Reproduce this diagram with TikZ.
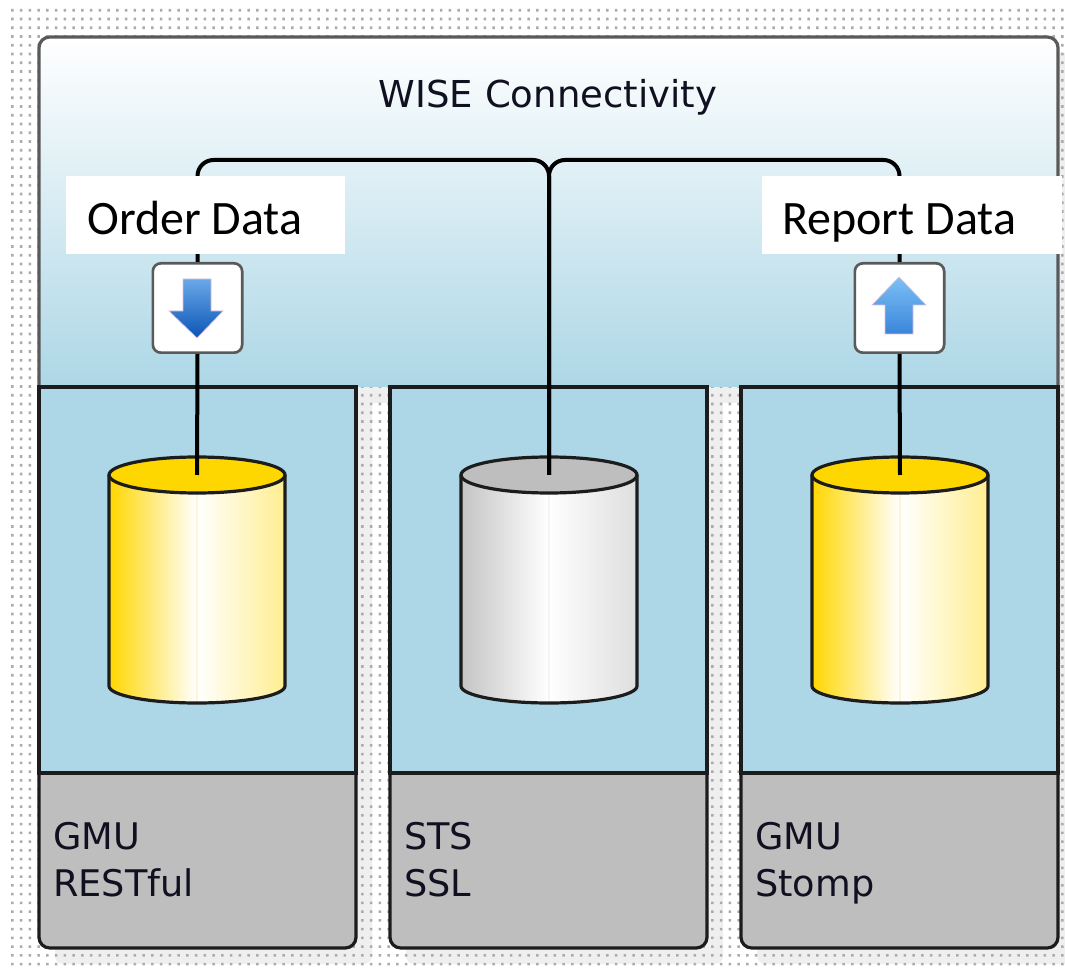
\documentclass[tikz,border=0pt]{standalone}
\usepackage{fontspec}
\setmainfont{DejaVu Sans}
\newfontfamily\calibri{Carlito}
\definecolor{panelblue}{HTML}{ADD7E6}
\definecolor{footgray}{HTML}{BEBEBE}
\definecolor{shadowgray}{HTML}{EFEFEF}
\definecolor{dotgray}{HTML}{ABABAB}
\definecolor{linedark}{HTML}{1C1C1C}
\definecolor{framegray}{HTML}{5A5A5A}
\definecolor{inkdark}{HTML}{101020}
\definecolor{gold}{HTML}{FFD700}
\definecolor{paleyellow}{HTML}{FFEE90}
\definecolor{creamline}{HTML}{FFF4D8}
\definecolor{grayleft}{HTML}{C4C4C4}
\definecolor{grayright}{HTML}{DEDEDE}
\definecolor{downtop}{HTML}{6AA8E8}
\definecolor{downbottom}{HTML}{0A55B5}
\definecolor{uptop}{HTML}{7CC0F5}
\definecolor{upbottom}{HTML}{3A85DA}
\tikzset{
  wire/.style={draw=black,line width=3pt},
  panelline/.style={draw=linedark,line width=2.4pt},
  iconbox/.style={draw=framegray,fill=white,line width=2pt,rounded corners=6pt,
    minimum size=67pt,inner sep=0pt},
  tagtext/.style={anchor=base west,inner sep=0pt,font=\calibri\fontsize{36}{36}\selectfont,text=black},
  foottext/.style={anchor=base west,inner sep=0pt,font=\fontsize{27.5}{35}\selectfont,
    text=inkdark,align=left},
  arrowhalo/.style={draw=violet!25,line width=0.5pt}
}
\begin{document}
\begin{tikzpicture}[x=0.75pt,y=-0.75pt]
   \useasboundingbox (0,0) rectangle (1065,973);
   \fill[white] (0,0) rectangle (1065,973);
   % shadows and dotted ground
   \fill[shadowgray,rounded corners=6pt] (55,53) rectangle (1074,403);
   \foreach \px in {39,390,741} {
    \fill[shadowgray,rounded corners=6pt] (\px+16,400) rectangle (\px+333,964);
   }
   \foreach \i in {0,...,120} {
    \fill[dotgray] foreach \j in {0,...,109} {
      (11+8.75*\i,9+8.75*\j) rectangle ++(2.6,2.6) };
   }
   % top box
   \shade[top color=white,bottom color=panelblue]
     (39,387) [rounded corners=8pt] -- (39,37) -- (1058,37) [sharp corners] -- (1058,387) -- cycle;
   \draw[framegray,line width=2.4pt,rounded corners=8pt]
     (39,387) -- (39,37) -- (1058,37) -- (1058,387);
   \node (title) [anchor=base,inner sep=0pt,font=\fontsize{27.8}{27.8}\selectfont,text=inkdark]
     at (548,108) {WISE Connectivity};
   % the three columns
   \foreach \px/\one/\two in {39/GMU/RESTful,390/STS/SSL,741/GMU/Stomp} {
    \fill[panelblue] (\px,387) rectangle (\px+317,773);
    \filldraw[fill=footgray,panelline,rounded corners=8pt]
      (\px,773) -- (\px,948) -- (\px+317,948) -- (\px+317,773);
    \draw[panelline] (\px,773) -- (\px,387) -- (\px+317,387) -- (\px+317,773) -- cycle;
    \node (foot\px) [foottext] at (\px+14,896) {\one\\\two};
   }
   % cylinders
   \foreach \cx/\cleft/\cright/\ccap/\cline/\dbname in {
      197/gold/paleyellow/gold/creamline/orderdb,
      549/grayleft/grayright/footgray/white!92!gray/stsdb,
      900/gold/paleyellow/gold/creamline/reportdb} {
    \shade[left color=\cleft,right color=\cright,middle color=white]
      (\cx-88,475) -- (\cx-88,686) arc[start angle=180,end angle=0,x radius=88,y radius=17]
      -- (\cx+88,475) -- cycle;
    \draw[\cline,line width=0.9pt] (\cx,494) -- (\cx,703);
    \filldraw[fill=\ccap,draw=linedark,line width=2.4pt] (\cx,475) ellipse [x radius=88,y radius=18];
    \draw[linedark,line width=2.4pt]
      (\cx-88,475) -- (\cx-88,686) arc[start angle=180,end angle=0,x radius=88,y radius=17]
      -- (\cx+88,475);
    \coordinate (\dbname) at (\cx,475);
   }
   % icons
   \node (ordericon) [iconbox] at (197.5,308) {};
   \node (reporticon) [iconbox] at (899.5,308) {};
   % connectors
   \coordinate (hub) at (549,160);
   \draw[wire,rounded corners=12pt] (ordericon.north) |- (hub) -- (stsdb);
   \draw[wire,rounded corners=12pt] (reporticon.north) |- (hub) -- (stsdb);
   \draw[wire] (ordericon.south) -- (orderdb);
   \draw[wire] (reporticon.south) -- (reportdb);
   % arrows in the icons
   \shade[top color=downtop,bottom color=downbottom]
     (183,279) -- (211,279) -- (211,311) -- (223,311) -- (197,338) -- (169,311) -- (183,311) -- cycle;
   \draw[arrowhalo]
     (183,279) -- (211,279) -- (211,311) -- (223,311) -- (197,338) -- (169,311) -- (183,311) -- cycle;
   \shade[top color=uptop,bottom color=upbottom]
     (899,277) -- (926,305) -- (913,305) -- (913,334) -- (885,334) -- (885,305) -- (872,305) -- cycle;
   \draw[arrowhalo]
     (899,277) -- (926,305) -- (913,305) -- (913,334) -- (885,334) -- (885,305) -- (872,305) -- cycle;
   % white tags
   \fill[white] (66,176) rectangle (345,254);
   \node (ordertag) [tagtext] at (87,234.5) {Order Data};
   \fill[white] (762,176) rectangle (1062,254);
   \node (reporttag) [tagtext] at (782,234.5) {Report Data};
  \end{tikzpicture}
\end{document}
